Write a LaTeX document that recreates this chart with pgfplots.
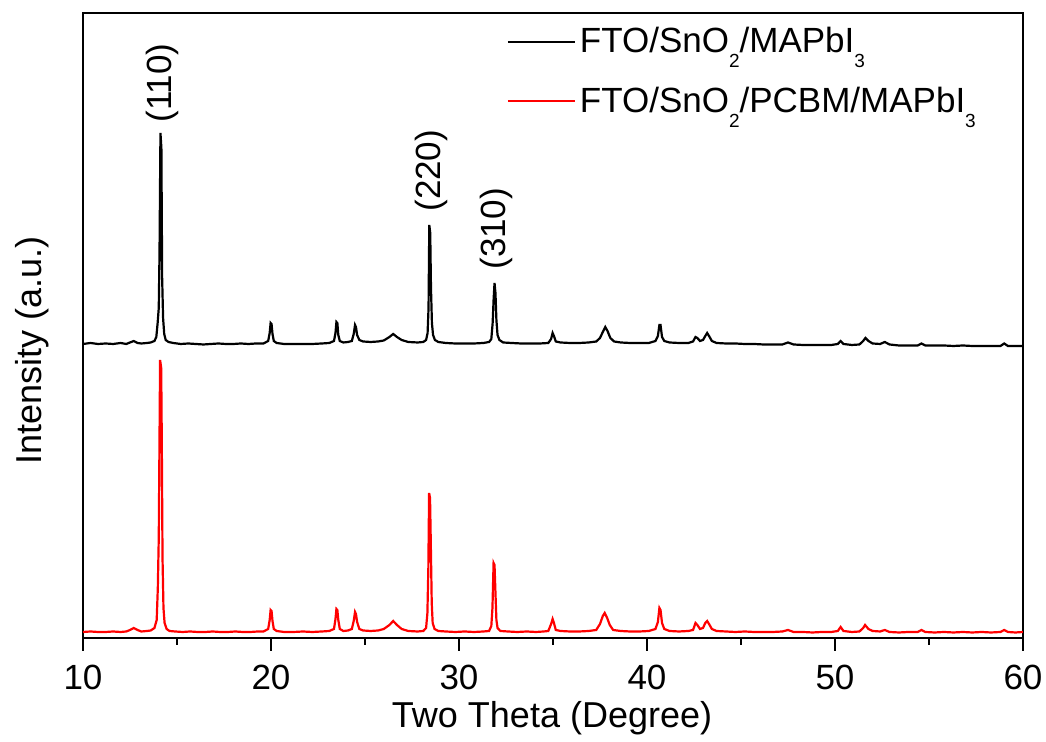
\documentclass[border=0pt]{standalone}
\usepackage{fontspec}
\setmainfont{Liberation Sans}
\usepackage{pgfplots}
\pgfplotsset{compat=1.18}

% deep, small subscript as used in the legend
\newcommand{\sub}[1]{\raisebox{-7.5pt}{\fontsize{9.5}{10}\selectfont #1}}

% XRD patterns, intensity in arbitrary units (upper pattern offset)
\pgfplotstableread{
x y
10.0 294
10.4 295
10.8 294
11.2 294.5
11.6 294
12.0 295
12.3 294
12.5 295.5
12.7 297
12.9 295
13.1 294.5
13.4 295
13.6 295.5
13.8 297
13.9 301
13.97 315
14.03 330
14.07 385
14.12 505
14.17 490
14.21 360
14.26 320
14.32 304
14.4 298
14.55 296
14.8 295
15.2 294
15.6 294.5
16.0 294
16.4 293.5
16.8 294
17.2 294.5
17.6 294
18.0 294
18.4 294.5
18.8 294
19.2 294.5
19.6 294.5
19.85 297
19.93 305
19.98 315
20.03 314
20.08 304
20.15 297
20.3 295
20.7 294
21.2 294
21.7 294
22.2 294
22.7 294.5
23.1 295
23.35 297
23.43 305
23.48 316
23.53 315
23.58 303
23.66 297
23.85 295.5
24.1 296
24.3 297
24.4 304
24.47 313
24.52 311
24.58 303
24.7 298
24.9 296.5
25.3 296
25.7 296.5
26.0 297.5
26.3 301
26.5 304
26.7 301
26.95 298
27.3 296
27.8 295.5
28.1 296
28.25 298
28.33 305
28.38 330
28.42 413
28.47 405
28.51 350
28.56 315
28.62 303
28.72 298
28.9 296
29.3 295
29.8 294.5
30.3 294.5
30.8 294.5
31.3 295
31.6 296
31.72 299
31.79 315
31.84 338
31.89 355
31.94 345
31.99 318
32.05 303
32.15 298
32.35 295.5
32.8 295
33.3 294.5
33.8 294.5
34.3 294.5
34.75 295
34.9 299
34.98 305
35.05 302
35.15 296.5
35.4 295.5
35.9 295
36.4 295
36.9 295.5
37.3 296.5
37.5 300
37.65 306
37.78 311
37.9 307
38.05 300
38.25 296.5
38.6 295.5
39.1 295
39.6 295
40.1 295
40.45 297
40.58 302
40.66 313
40.72 313
40.8 301
40.92 297
41.2 295.5
41.7 295
42.2 295
42.45 296.5
42.58 301
42.68 300
42.82 297
42.98 298
43.1 302
43.2 305
43.3 302
43.45 297
43.7 295
44.2 294.5
44.7 294.5
45.2 294
45.7 294
46.2 293.5
46.7 293.5
47.2 293.5
47.5 295.5
47.8 293.5
48.3 293
48.8 293
49.3 293
49.8 293
50.15 294
50.3 297
50.45 294
50.9 293
51.3 293.5
51.5 297
51.62 300
51.78 297
52.0 294.5
52.4 294
52.65 296
52.9 293.5
53.4 292.5
53.9 292.5
54.4 292.5
54.6 294.5
54.8 292.5
55.3 292.5
55.8 292.5
56.3 292
56.8 292.5
57.3 292
57.8 292
58.3 292
58.8 292
59.0 294.5
59.2 292
59.6 292
60.0 292
}\dataA

\pgfplotstableread{
x y
10.0 6
10.4 6.5
10.8 6
11.2 6
11.6 6.5
12.0 6
12.3 6.5
12.5 8
12.7 10
12.9 8
13.1 6.5
13.4 7
13.6 7.5
13.8 10
13.92 18
13.98 50
14.03 100
14.07 200
14.1 278
14.16 270
14.19 200
14.23 80
14.28 30
14.34 15
14.45 9
14.6 7
14.9 6.5
15.3 6
15.7 6.5
16.1 6
16.5 6
16.9 6.5
17.3 6
17.7 6
18.1 6.5
18.5 6
18.9 6
19.3 6.5
19.6 6.5
19.85 9
19.93 18
19.98 28
20.03 27
20.08 17
20.15 9
20.3 7
20.7 6
21.2 6
21.7 6.5
22.2 6
22.7 6.5
23.1 7
23.35 9
23.43 19
23.48 29
23.53 28
23.58 18
23.66 9
23.85 7
24.1 7.5
24.3 9
24.4 17
24.47 26
24.52 24
24.58 16
24.7 9
24.9 7.5
25.3 7
25.7 7.5
26.0 9
26.3 13
26.5 17
26.7 13
26.95 9
27.3 7
27.8 6.5
28.1 7
28.25 10
28.32 25
28.37 70
28.41 145
28.46 140
28.5 95
28.55 35
28.6 15
28.7 9
28.9 7
29.3 6.5
29.8 6
30.3 6.5
30.8 6
31.3 6.5
31.6 7
31.72 12
31.78 30
31.84 75
31.89 73
31.94 45
31.99 18
32.05 10
32.2 7
32.6 6.5
33.1 6
33.6 6.5
34.1 6
34.5 6.5
34.75 7
34.9 14
34.98 19
35.05 15
35.15 8
35.4 7
35.9 6.5
36.4 6.5
36.9 7
37.3 8
37.5 14
37.65 22
37.75 25
37.88 20
38.02 13
38.2 8
38.6 7
39.1 6.5
39.6 6.5
40.1 7
40.45 9
40.58 16
40.66 30
40.72 28
40.8 15
40.92 9
41.2 7
41.7 6.5
42.2 7
42.45 8
42.58 15
42.68 13
42.82 9
42.98 10
43.1 15
43.2 17
43.3 14
43.45 9
43.7 7
44.2 6.5
44.7 6
45.2 6.5
45.7 6
46.2 6
46.7 6
47.2 6.5
47.5 8
47.8 6
48.3 6
48.8 5.5
49.3 6
49.8 6
50.15 7
50.3 11
50.45 7
50.9 6
51.3 6.5
51.5 10
51.6 13
51.78 9
52.0 7
52.4 6.5
52.65 8
52.9 6
53.4 5.5
53.9 6
54.4 6
54.6 8
54.8 6
55.3 5.5
55.8 6
56.3 5.5
56.8 6
57.3 5.5
57.8 6
58.3 5.5
58.8 6
59.0 8
59.2 6
59.6 5.5
60.0 6
}\dataB

\begin{document}
\begin{tikzpicture}
\path[use as bounding box] (-41.5pt,-52pt) rectangle (481.5pt,319pt);
\begin{axis}[
  at={(0pt,0pt)}, anchor=south west,
  width=470pt, height=312.5pt, scale only axis,
  xmin=10, xmax=60, ymin=0, ymax=625,
  xtick={10,20,...,60},
  minor xtick={15,25,...,55},
  ytick=\empty,
  xtick pos=bottom,
  tick align=outside,
  major tick length=6.5pt,
  minor tick length=3.5pt,
  tick style={line width=1.1pt, black},
  axis line style={line width=1.3pt},
  /pgf/number format/assume math mode=true,
  tick label style={font=\fontsize{17.5}{21}\selectfont},
  xticklabel style={yshift=-3.5pt},
  label style={font=\fontsize{18}{22}\selectfont},
  xlabel={Two Theta (Degree)},
  ylabel={Intensity (a.u.)},
  xlabel style={at={(axis description cs:0.499,-0.128)}, anchor=center},
  ylabel style={at={(axis description cs:-0.054,0.46)}, anchor=center},
  legend style={
    at={(axis description cs:0.444,0.99)}, anchor=north west,
    draw=none, fill=none,
    font=\fontsize{17.5}{21}\selectfont,
    row sep=11.5pt,
  },
  legend cell align=left,
  legend image code/.code={\draw[#1] (0pt,0pt) -- (33.5pt,0pt);},
  every axis plot/.append style={line width=1.1pt},
  clip=true,
]
\addplot[black] table[x=x,y=y] {\dataA};
\addlegendentry{FTO/SnO\sub{2}/MAPbI\sub{3}}
\addplot[red] table[x=x,y=y] {\dataB};
\addlegendentry{FTO/SnO\sub{2}/PCBM/MAPbI\sub{3}}

\node[rotate=90, anchor=west, inner sep=0pt, font=\fontsize{17.5}{21}\selectfont] at (axis cs:14.2,515) {(110)};
\node[rotate=90, anchor=west, inner sep=0pt, font=\fontsize{17.5}{21}\selectfont] at (axis cs:28.56,426) {(220)};
\node[rotate=90, anchor=west, inner sep=0pt, font=\fontsize{17.5}{21}\selectfont] at (axis cs:31.97,368) {(310)};
\end{axis}
\end{tikzpicture}
\end{document}
